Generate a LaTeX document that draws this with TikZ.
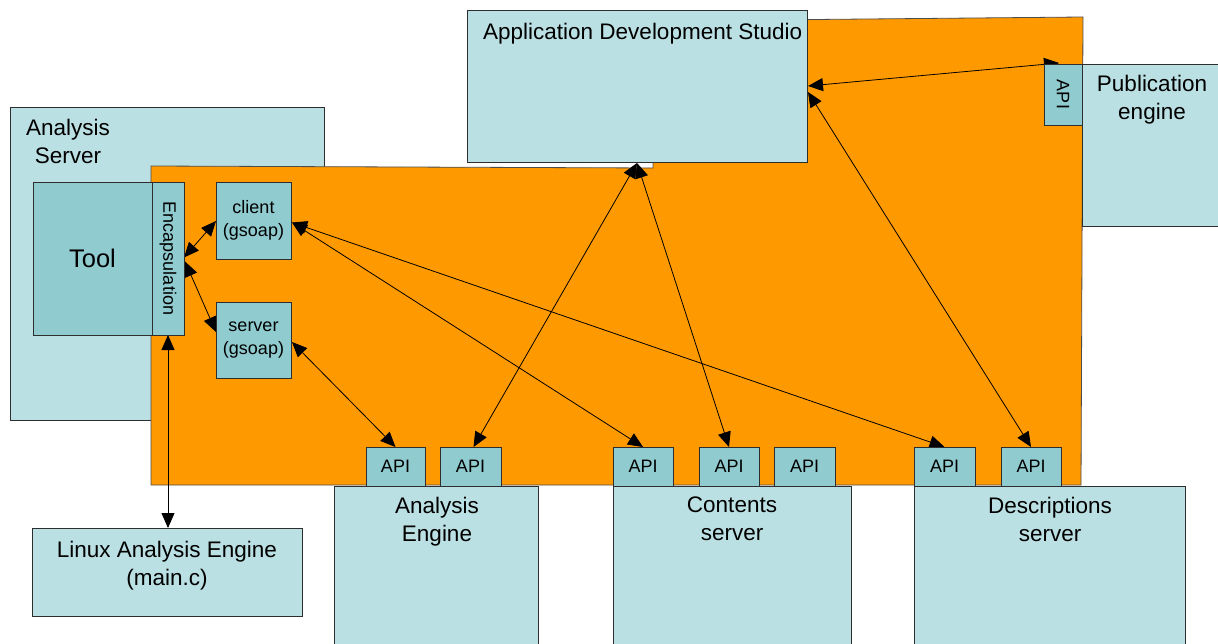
\documentclass[tikz,border=0pt]{standalone}
\usepackage{fontspec}
\setmainfont{Liberation Sans}
\usetikzlibrary{arrows.meta,calc}
\definecolor{pale}{HTML}{BBE0E3}
\definecolor{tealbox}{HTML}{90CBCF}
\definecolor{orangebg}{HTML}{FF9900}
\definecolor{edge}{HTML}{2E2E2E}
\pgfdeclarelayer{bg}
\pgfdeclarelayer{links}
\pgfsetlayers{bg,links,main}
\begin{document}
\begin{tikzpicture}[x=1pt,y=-1pt,
  box/.style={draw=edge, line width=0.8pt, inner sep=0pt, outer sep=0pt, anchor=north west, align=center},
  palebox/.style={box, fill=pale},
  darkbox/.style={box, fill=tealbox},
  big/.style={font=\fontsize{22.5}{27.5}\selectfont},
  small/.style={font=\fontsize{18}{23}\selectfont},
  api/.style={darkbox, small, minimum height=39pt},
  lbl/.style={inner sep=0pt, anchor=north, align=center, big},
  link/.style={line width=0.8pt, draw=black,
    {Triangle[length=15pt,width=13pt]}-{Triangle[length=15pt,width=13pt]}}
]
\useasboundingbox (0,0) rectangle (1218,644);

% background: analysis server and the orange integration area
\begin{pgfonlayer}{bg}
  \node[palebox, minimum width=314pt, minimum height=313pt] (aserver) at (10,107) {};
  \draw[draw=edge!85, fill=orangebg, line width=0.8pt]
    (151,166) -- (653,168) -- (653,21) -- (1083,17) -- (1081,485) -- (151,485) -- cycle;
\end{pgfonlayer}
\node[lbl] (aserverlbl) at (68,119) {Analysis\\Server};

% studio and publication engine
\node[palebox, minimum width=340pt, minimum height=152pt] (ads) at (467,10) {};
\node[big, inner sep=0pt, anchor=base west] (adslbl) at (483,40) {Application Development Studio};
\node[palebox, minimum width=150pt, minimum height=162pt] (pub) at (1082,64) {};
\node[lbl] (publbl) at (1152,75) {Publication\\engine};
\node[darkbox, small, minimum width=38pt, minimum height=61pt] (pubapi) at (1044,64) {\rotatebox{-90}{API}};

% servers along the bottom
\node[palebox, minimum width=204pt, minimum height=170pt] (aeng) at (334,486) {};
\node[lbl] (aenglbl) at (437,497) {Analysis\\Engine};
\node[palebox, minimum width=238pt, minimum height=170pt] (cont) at (613,486) {};
\node[lbl] (contlbl) at (732,497) {Contents\\server};
\node[palebox, minimum width=271pt, minimum height=170pt] (desc) at (914,486) {};
\node[lbl] (desclbl) at (1050,497) {Descriptions\\server};

\node[api, minimum width=59pt] (aeapi1) at (366,447) {API};
\node[api, minimum width=61pt] (aeapi2) at (440,447) {API};
\node[api, minimum width=60pt] (contapi1) at (613,447) {API};
\node[api, minimum width=60pt] (contapi2) at (699,447) {API};
\node[api, minimum width=61pt] (contapi3) at (774,447) {API};
\node[api, minimum width=61pt] (descapi1) at (914,447) {API};
\node[api, minimum width=60pt] (descapi2) at (1001,447) {API};

% tool side
\node[darkbox, font=\fontsize{25.5}{30}\selectfont, minimum width=119pt, minimum height=153pt] (tool) at (33,182) {Tool};
\node[darkbox, small, minimum width=32pt, minimum height=153pt] (encaps) at (152,182) {\rotatebox{-90}{Encapsulation}};
\node[darkbox, small, minimum width=75pt, minimum height=77pt] (client) at (216,182) {client\\(gsoap)};
\node[darkbox, small, minimum width=75pt, minimum height=76pt] (server) at (216,302) {server\\(gsoap)};
\node[palebox, minimum width=270pt, minimum height=88pt] (linux) at (32,528) {};
\node[lbl] (linuxlbl) at (167,541) {Linux Analysis Engine\\(main.c)};

% connections
\begin{pgfonlayer}{links}
  \draw[link] ($(ads.north east)+(1,76)$) -- ($(pubapi.north west)+(15,-1)$);
  \draw[link] ($(ads.north east)+(1,82)$) -- (descapi2.north);
  \draw[link] ($(ads.south west)+(170,1)$) -- ($(aeapi2.north)+(3,0)$);
  \draw[link] ($(ads.south west)+(170,1)$) -- (contapi2.north);
  \draw[link] ($(client.east)+(1,2)$) -- (contapi1.north);
  \draw[link] ($(client.east)+(1,2)$) -- (descapi1.north);
  \draw[link] ($(server.east)+(1,2)$) -- (aeapi1.north);
  \draw[link] ($(encaps.east)+(0,-1)$) -- ($(client.west)+(0,0.5)$);
  \draw[link] ($(encaps.east)+(1,3)$) -- ($(server.west)+(0,-8)$);
  \draw[link] (encaps.south) -- (encaps.south |- linux.north);
\end{pgfonlayer}
\end{tikzpicture}
\end{document}
